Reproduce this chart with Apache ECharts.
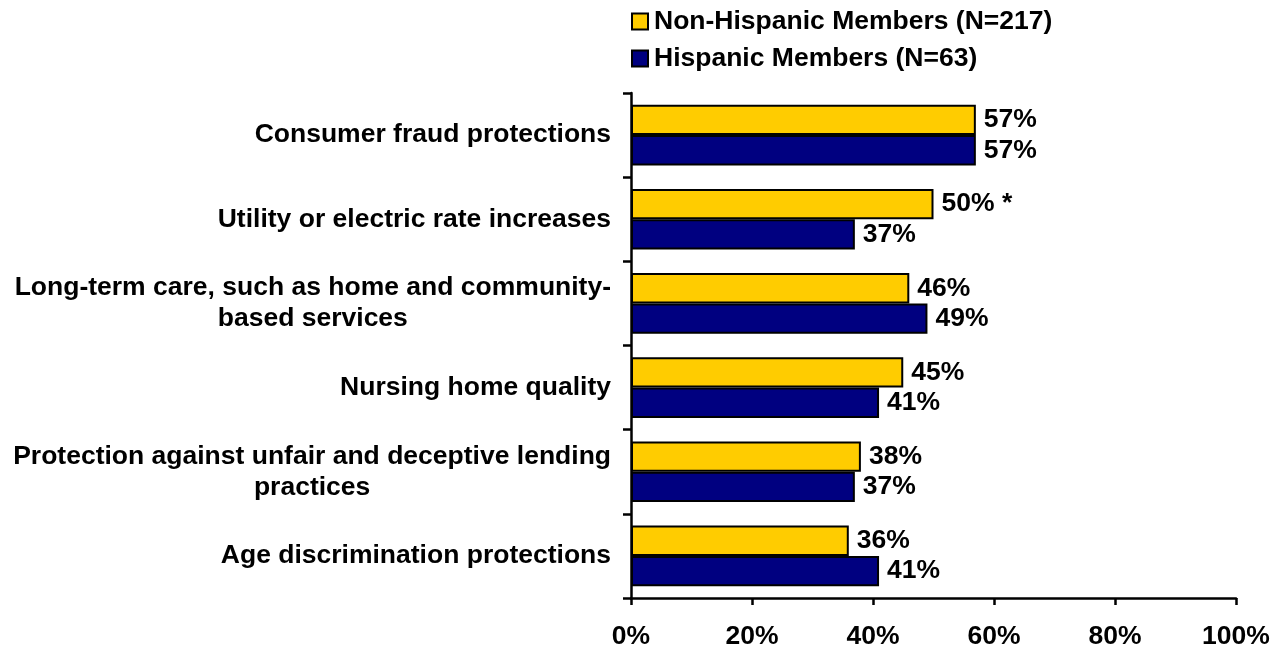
<!DOCTYPE html>
<html>
<head>
<meta charset="utf-8">
<script src="https://cdn.jsdelivr.net/npm/echarts@6/dist/echarts.min.js"></script>
<style>
  html, body { margin: 0; padding: 0; background: #fff; }
  #chart { width: 1280px; height: 646px; }
</style>
</head>
<body>
<div id="chart"></div>
<script>
// Issue areas, top to bottom
const categories = [
  'Consumer fraud protections',
  'Utility or electric rate increases',
  'Long-term care, such as home and community-\nbased services',
  'Nursing home quality',
  'Protection against unfair and deceptive lending\npractices',
  'Age discrimination protections'
];
const seriesNames = ['Non-Hispanic Members (N=217)', 'Hispanic Members (N=63)'];
const nonHispanic = [57, 50, 46, 45, 38, 36];
const hispanic = [57, 37, 49, 41, 37, 41];
// significance marker shown after the Non-Hispanic value
const nonHispanicNotes = ['', ' *', '', '', '', ''];
const xTicks = [0, 20, 40, 60, 80, 100];

const FONT = 'Liberation Sans, Arial, sans-serif';
const FS = 26.5;

const chart = echarts.init(document.getElementById('chart'));

function barLabel(notes) {
  return {
    show: true,
    position: 'right',
    distance: 8,
    color: '#000',
    fontFamily: FONT,
    fontWeight: 'bold',
    fontSize: FS,
    formatter: p => p.value + '%' + (notes ? notes[p.dataIndex] : '')
  };
}

chart.setOption({
  animation: false,
  backgroundColor: '#fff',
  legend: {
    orient: 'vertical',
    left: 626,
    top: 3,
    itemWidth: 16,
    itemHeight: 16,
    itemGap: 10,
    icon: 'rect',
    itemStyle: { borderColor: '#000', borderWidth: 2 },
    textStyle: { fontFamily: FONT, fontWeight: 'bold', fontSize: FS, color: '#000', padding: [0, 0, 0, 1] },
    data: seriesNames
  },
  grid: { left: 631, right: 44, top: 93, bottom: 48, containLabel: false, outerBoundsMode: 'none' },
  xAxis: {
    type: 'value',
    min: xTicks[0],
    max: xTicks[xTicks.length - 1],
    interval: 20,
    axisLine: { show: true, lineStyle: { color: '#000', width: 2.5 } },
    axisTick: { show: true, length: 7, lineStyle: { color: '#000', width: 2.5 } },
    splitLine: { show: false },
    axisLabel: {
      margin: 25,
      color: '#000',
      fontFamily: FONT,
      fontWeight: 'bold',
      fontSize: FS,
      formatter: '{value}%'
    }
  },
  yAxis: {
    type: 'category',
    inverse: true,
    data: categories,
    axisLine: { show: true, lineStyle: { color: '#000', width: 2.5 } },
    axisTick: { show: true, length: 8, lineStyle: { color: '#000', width: 2.5 } },
    axisLabel: {
      margin: 20,
      align: 'right',
      formatter: v => v.split('\n').map(l => '{c|' + l + '}').join('\n'),
      rich: {
        c: {
          align: 'center',
          color: '#000',
          fontFamily: FONT,
          fontWeight: 'bold',
          fontSize: FS,
          lineHeight: 31
        }
      }
    }
  },
  series: [
    {
      name: seriesNames[0],
      type: 'bar',
      data: nonHispanic,
      barGap: '0%',
      barCategoryGap: '28%',
      itemStyle: { color: '#FFCC00', borderColor: '#000', borderWidth: 2 },
      label: barLabel(nonHispanicNotes)
    },
    {
      name: seriesNames[1],
      type: 'bar',
      data: hispanic,
      barGap: '0%',
      barCategoryGap: '28%',
      itemStyle: { color: '#000080', borderColor: '#000', borderWidth: 2 },
      label: barLabel(null)
    }
  ]
});
</script>
</body>
</html>
